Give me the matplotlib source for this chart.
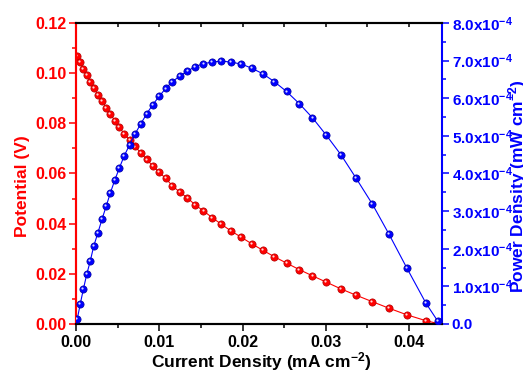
import matplotlib
matplotlib.use("Agg")
import matplotlib.pyplot as plt
from matplotlib.ticker import MultipleLocator, FixedLocator, FixedFormatter
from matplotlib.transforms import offset_copy
import numpy as np

plt.rcParams['font.family'] = ['Liberation Sans', 'DejaVu Sans']
plt.rcParams['font.weight'] = 'bold'
plt.rcParams['mathtext.fontset'] = 'custom'
plt.rcParams['mathtext.rm'] = 'Liberation Sans:bold'
plt.rcParams['mathtext.bf'] = 'Liberation Sans:bold'
plt.rcParams['mathtext.it'] = 'Liberation Sans:bold'
plt.rcParams['mathtext.default'] = 'bf'

# current density (mA cm-2)
current = [0.00016, 0.00052, 0.00088, 0.00129, 0.00172, 0.00213, 0.00264, 0.00313,
           0.00364, 0.00412, 0.00465, 0.00520, 0.00577, 0.00643, 0.00709, 0.00778,
           0.00850, 0.00922, 0.00999, 0.01076, 0.01157, 0.01246, 0.01338, 0.01430,
           0.01530, 0.01636, 0.01744, 0.01861, 0.01984, 0.02109, 0.02244, 0.02382,
           0.02528, 0.02680, 0.02840, 0.03005, 0.03181, 0.03362, 0.03558, 0.03758,
           0.03970, 0.04203, 0.04343]

# potential (V)
potential = [0.1067, 0.1043, 0.1018, 0.0992, 0.0966, 0.0940, 0.0914, 0.0888,
             0.0863, 0.0838, 0.0811, 0.0785, 0.0759, 0.0734, 0.0708, 0.0682,
             0.0656, 0.0630, 0.0605, 0.0581, 0.0551, 0.0526, 0.0503, 0.0475,
             0.0451, 0.0424, 0.0398, 0.0371, 0.0346, 0.0320, 0.0294, 0.0268,
             0.0243, 0.0217, 0.0192, 0.0167, 0.0140, 0.0115, 0.0089, 0.0063,
             0.0037, 0.0013, 0.0002]

# power density (mW cm-2)
power = [1.4e-5, 5.4e-5, 9.2e-5, 1.32e-4, 1.68e-4, 2.07e-4, 2.43e-4, 2.79e-4,
         3.14e-4, 3.48e-4, 3.82e-4, 4.14e-4, 4.46e-4, 4.76e-4, 5.05e-4, 5.32e-4,
         5.59e-4, 5.83e-4, 6.05e-4, 6.26e-4, 6.44e-4, 6.59e-4, 6.72e-4, 6.84e-4,
         6.92e-4, 6.96e-4, 6.99e-4, 6.96e-4, 6.91e-4, 6.80e-4, 6.65e-4, 6.44e-4,
         6.18e-4, 5.86e-4, 5.48e-4, 5.02e-4, 4.50e-4, 3.88e-4, 3.19e-4, 2.39e-4,
         1.50e-4, 5.5e-5, 8e-6]

x_ticks = [0.0, 0.01, 0.02, 0.03, 0.04]
x_labels = ['0.00', '0.01', '0.02', '0.03', '0.04']
v_ticks = [0.0, 0.02, 0.04, 0.06, 0.08, 0.10, 0.12]
v_labels = ['0.00', '0.02', '0.04', '0.06', '0.08', '0.10', '0.12']
p_ticks = [0, 1e-4, 2e-4, 3e-4, 4e-4, 5e-4, 6e-4, 7e-4, 8e-4]
p_labels = ['0.0'] + ['%d.0x10$^{-4}$' % k for k in range(1, 9)]

fig = plt.figure(figsize=(5.23, 3.74), dpi=100)
ax = fig.add_axes([0.1453, 0.1337, 0.6998, 0.8048])
ax2 = ax.twinx()

red = '#ff0000'
blue = '#0000ff'

def balls(a, x, y, col, dark):
    a.plot(x, y, '-', color=col, lw=0.8, zorder=2)
    a.plot(x, y, 'o', ms=5.2, mfc=col, mec=dark, mew=0.5, zorder=3)
    hl = offset_copy(a.transData, fig=fig, x=-0.9, y=0.9, units='dots')
    a.plot(x, y, 'o', ms=1.6, mfc='white', mec='none', alpha=0.85,
           transform=hl, zorder=4)

balls(ax, current, potential, red, '#b00000')
balls(ax2, current, power, blue, '#0000a0')

ax.set_xlim(0, 0.04395)
ax.set_ylim(0, 0.12)
ax2.set_ylim(0, 8e-4)

ax.xaxis.set_major_locator(FixedLocator(x_ticks))
ax.xaxis.set_major_formatter(FixedFormatter(x_labels))
ax.xaxis.set_minor_locator(MultipleLocator(0.005))
ax.yaxis.set_major_locator(FixedLocator(v_ticks))
ax.yaxis.set_major_formatter(FixedFormatter(v_labels))
ax.yaxis.set_minor_locator(MultipleLocator(0.01))
ax2.yaxis.set_major_locator(FixedLocator(p_ticks))
ax2.yaxis.set_major_formatter(FixedFormatter(p_labels))
ax2.yaxis.set_minor_locator(MultipleLocator(0.5e-4))

for s in ['left', 'right', 'top', 'bottom']:
    ax.spines[s].set_linewidth(1.5)
    ax2.spines[s].set_linewidth(1.5)
ax2.spines['left'].set_color(red)
ax.spines['left'].set_color(red)
ax2.spines['right'].set_color(blue)
ax.spines['right'].set_visible(False)

ax.tick_params(axis='x', which='both', direction='out', color='black', width=1.1,
               labelsize=11.5, pad=3, top=True)
ax.tick_params(axis='x', which='major', length=5)
ax.tick_params(axis='x', which='minor', length=3)
ax.tick_params(axis='y', which='both', direction='out', color=red, width=1.1,
               labelsize=11.5, labelcolor=red, pad=2)
ax.tick_params(axis='y', which='major', length=5)
ax.tick_params(axis='y', which='minor', length=3)
ax2.tick_params(axis='y', which='both', direction='out', color=blue, width=1.1,
                labelsize=11, labelcolor=blue, pad=2)
ax2.tick_params(axis='y', which='major', length=5)
ax2.tick_params(axis='y', which='minor', length=3)

# top ticks point inward
for t in ax.xaxis.get_major_ticks() + ax.xaxis.get_minor_ticks():
    t.tick2line.set_marker(3)
    t.tick2line.set_markersize(3)

for lab in ax.get_xticklabels() + ax.get_yticklabels() + ax2.get_yticklabels():
    lab.set_fontweight('bold')

ax.set_xlabel('Current Density (mA cm$^{-2}$)', fontsize=12.5, fontweight='bold')
ax.set_ylabel('Potential (V)', fontsize=12.5, fontweight='bold', color=red)
ax2.set_ylabel('Power Density (mW cm$^{-2}$)', fontsize=12.5, fontweight='bold',
               color=blue)
ax.xaxis.set_label_coords(0.505, -0.086)
ax.yaxis.set_label_coords(-0.126, 0.457)
ax2.yaxis.set_label_coords(1.175, 0.457)

fig.savefig('out.png', dpi=100)
